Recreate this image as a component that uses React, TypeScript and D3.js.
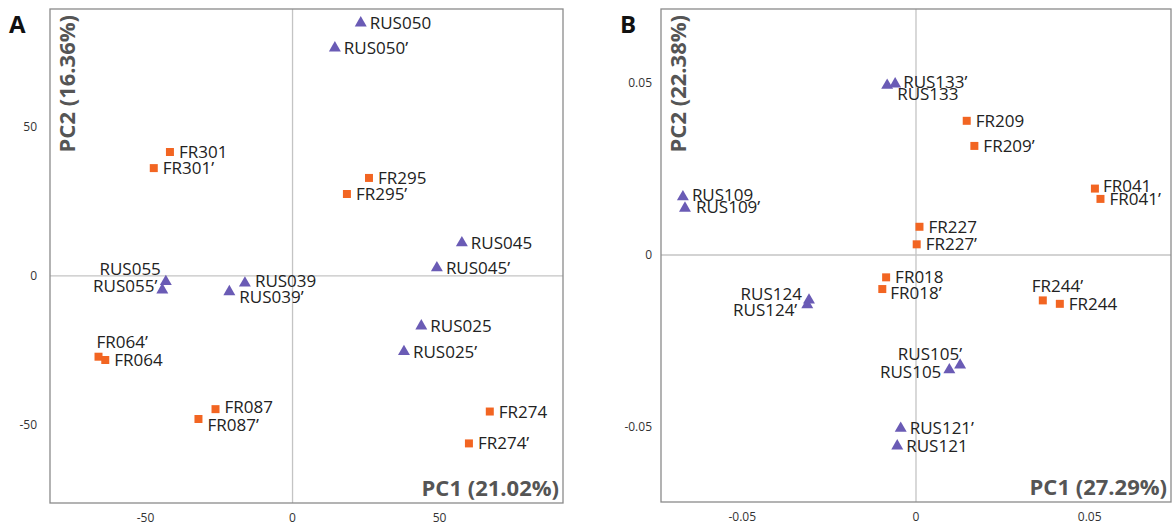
import React from "react";
import * as d3 from "d3";

// Panel A
const namesA = ["RUS050", "RUS050’", "FR301", "FR301’", "FR295", "FR295’", "RUS045", "RUS045’", "RUS055", "RUS055’", "RUS039", "RUS039’", "RUS025", "RUS025’", "FR064’", "FR064", "FR087", "FR087’", "FR274", "FR274’"];
const pc1A = [23.2, 14.4, -41.7, -47.2, 26, 18.5, 57.6, 49.1, -43.1, -44.3, -16.2, -21.5, 43.8, 37.9, -66, -63.7, -26.2, -32, 67.1, 60];
const pc2A = [84.9, 76.5, 41.6, 36.2, 32.9, 27.5, 11.1, 2.7, -1.9, -4.7, -2.4, -5.3, -16.8, -25.4, -27.1, -28.2, -44.7, -48, -45.5, -56.2];
const ticksA = [-50, 0, 50];
const tickLabelsA = ["-50", "0", "50"];

// Panel B
const namesB = ["RUS133", "RUS133’", "FR209", "FR209’", "RUS109", "RUS109’", "FR041", "FR041’", "FR227", "FR227’", "FR018", "FR018’", "RUS124", "RUS124’", "FR244’", "FR244", "RUS105’", "RUS105", "RUS121’", "RUS121"];
const pc1B = [-0.0083, -0.006, 0.0146, 0.0168, -0.0671, -0.0665, 0.0515, 0.0531, 0.001, 0.0002, -0.0086, -0.0097, -0.0308, -0.0313, 0.0365, 0.0414, 0.0127, 0.0096, -0.0044, -0.0054];
const pc2B = [0.0493, 0.0497, 0.039, 0.0317, 0.0169, 0.0136, 0.0193, 0.0163, 0.0082, 0.0031, -0.0065, -0.0099, -0.0131, -0.0145, -0.0132, -0.0142, -0.032, -0.0334, -0.0504, -0.0555];
const ticksB = [-0.05, 0, 0.05];
const tickLabelsB = ["-0.05", "0", "0.05"];

const PURPLE = "#6a5bb5";
const ORANGE = "#f26522";
const LABEL_FONT = "'Open Sans', sans-serif";

// label placement tweaks: [dx, dy, anchor]
const labelPos: Record<string, [number, number, string]> = {
  "RUS055": [-5, -7, "end"],
  "RUS055’": [-5, 2, "end"],
  "RUS039": [10, 4, "start"],
  "RUS039’": [10, 11, "start"],
  "FR064’": [-2, -9, "start"],
  "FR087": [9, 4, "start"],
  "FR087’": [9, 12, "start"],
  "RUS133": [10, 15, "start"],
  "RUS133’": [8, 4, "start"],
  "RUS124": [-7, 0, "end"],
  "RUS124’": [-10, 11, "end"],
  "FR244’": [-11, -8, "start"],
  "RUS105’": [2, -5, "end"],
  "RUS105": [-8, 8, "end"],
  "FR018’": [8, 10, "start"],
  "RUS109": [9, 4, "start"],
  "RUS109’": [11, 5, "start"],
  "FR041": [8, 3, "start"],
};

const triangle = d3.symbol().type(d3.symbolTriangle).size(62)() as string;
const square = d3.symbol().type(d3.symbolSquare).size(64)() as string;

interface PanelProps {
  letter: string;
  names: string[];
  pc1: number[];
  pc2: number[];
  xDomain: [number, number];
  yDomain: [number, number];
  left: number;
  right: number;
  top: number;
  bottom: number;
  ticks: number[];
  tickLabels: string[];
  xTitle: string;
  yTitle: string;
  tickGap: number;
}

const Panel: React.FC<PanelProps> = (p) => {
  const x = d3.scaleLinear().domain(p.xDomain).range([p.left, p.right]);
  const y = d3.scaleLinear().domain(p.yDomain).range([p.bottom, p.top]);

  return (
    <g>
      <text x={p.left - 41} y={33} fontFamily={LABEL_FONT} fontWeight={700} fontSize={24} fill="#111">
        {p.letter}
      </text>
      {/* zero lines */}
      <line x1={x(0)} x2={x(0)} y1={p.top} y2={p.bottom} stroke="#c4c4c4" strokeWidth={1.3} />
      <line x1={p.left} x2={p.right} y1={y(0)} y2={y(0)} stroke="#c4c4c4" strokeWidth={1.3} />
      <rect x={p.left} y={p.top} width={p.right - p.left} height={p.bottom - p.top} fill="none" stroke="#8a8a8a" strokeWidth={1.3} />

      {p.ticks.map((t, i) => (
        <g key={"t" + i} fontFamily={LABEL_FONT} fontSize={12} fill="#333">
          <text x={x(t)} y={p.bottom + 19} textAnchor="middle">{p.tickLabels[i]}</text>
          <text x={p.left - p.tickGap} y={y(t) + 4} textAnchor="end">{p.tickLabels[i]}</text>
        </g>
      ))}

      <text
        transform={`translate(${p.left + 25},${p.top + 6}) rotate(-90)`}
        textAnchor="end"
        fontFamily={LABEL_FONT}
        fontWeight={700}
        fontSize={22}
        fill="#555"
      >
        {p.yTitle}
      </text>
      <text x={p.right - 4} y={p.bottom - 7} textAnchor="end" fontFamily={LABEL_FONT} fontWeight={700} fontSize={22} fill="#555">
        {p.xTitle}
      </text>

      {p.names.map((n, i) => {
        const isRus = n.startsWith("RUS");
        const px = x(p.pc1[i]);
        const py = y(p.pc2[i]);
        const [dx, dy, anchor] = labelPos[n] || [9, 6, "start"];
        return (
          <g key={n}>
            <path d={isRus ? triangle : square} transform={`translate(${px},${py})`} fill={isRus ? PURPLE : ORANGE} />
            <text x={px + dx} y={py + dy} textAnchor={anchor} fontFamily={LABEL_FONT} fontSize={17} fill="#222">
              {n}
            </text>
          </g>
        );
      })}
    </g>
  );
};

export default function App() {
  return (
    <svg width={1172} height={526} style={{ position: "absolute", left: 0, top: 0, background: "#fff" }}>
      <Panel
        letter="A"
        names={namesA}
        pc1={pc1A}
        pc2={pc2A}
        xDomain={[-82.5, 92]}
        yDomain={[-76.2, 89.6]}
        left={50}
        right={563}
        top={9}
        bottom={503}
        ticks={ticksA}
        tickLabels={tickLabelsA}
        xTitle="PC1 (21.02%)"
        yTitle="PC2 (16.36%)"
        tickGap={13}
      />
      <Panel
        letter="B"
        names={namesB}
        pc1={pc1B}
        pc2={pc2B}
        xDomain={[-0.0734, 0.0734]}
        yDomain={[-0.0718, 0.0715]}
        left={661}
        right={1171}
        top={9}
        bottom={502}
        ticks={ticksB}
        tickLabels={tickLabelsB}
        xTitle="PC1 (27.29%)"
        yTitle="PC2 (22.38%)"
        tickGap={9}
      />
    </svg>
  );
}
